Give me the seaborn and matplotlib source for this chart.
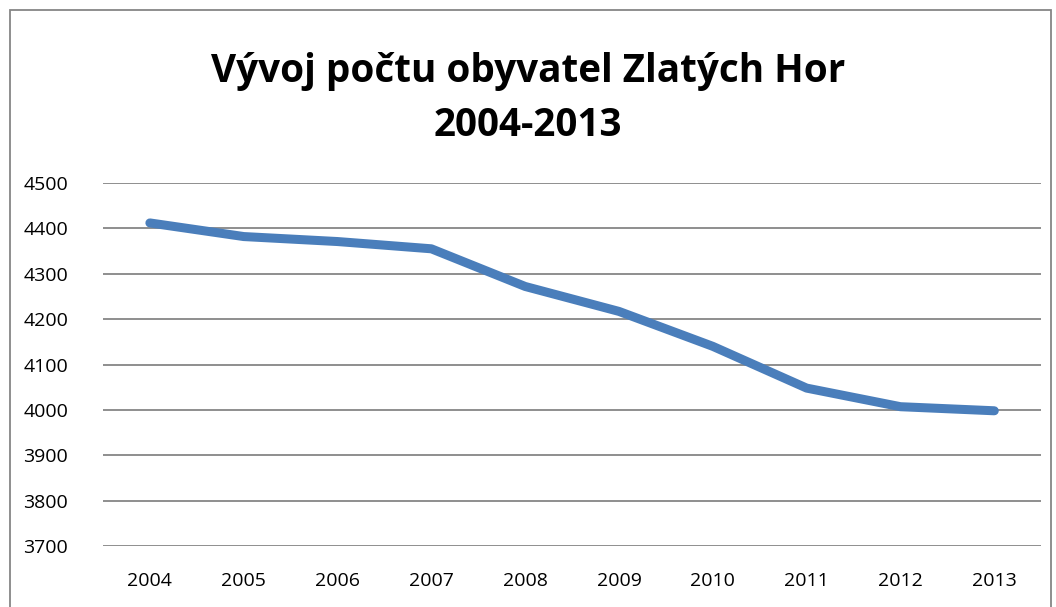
import pandas as pd
import matplotlib.pyplot as plt
import matplotlib.patches as patches
import seaborn as sns

years = [2004, 2005, 2006, 2007, 2008, 2009, 2010, 2011, 2012, 2013]
population = [4412, 4382, 4371, 4355, 4272, 4217, 4140, 4048, 4007, 3998]
y_ticks = [3700, 3800, 3900, 4000, 4100, 4200, 4300, 4400, 4500]

title = "Vývoj počtu obyvatel Zlatých Hor\n2004-2013"

sns.set_style("white")
plt.rcParams['font.family'] = ['Open Sans', 'DejaVu Sans']

df = pd.DataFrame({'rok': years, 'obyvatel': population})

fig = plt.figure(figsize=(10.56, 6.07), dpi=100)
ax = fig.add_axes([0.0975, 0.1005, 0.8885, 0.598])

sns.lineplot(data=df, x='rok', y='obyvatel', ax=ax, color='#4a7ebb',
             linewidth=6.5, solid_capstyle='round', zorder=3)

ax.set_xlim(years[0] - 0.5, years[-1] + 0.5)
ax.set_ylim(y_ticks[0], y_ticks[-1])
ax.set_xticks(years)
ax.set_xticklabels([str(y) for y in years])
ax.set_yticks(y_ticks)
ax.grid(axis='y', color='#868686', linewidth=1.3)
ax.grid(axis='x', visible=False)
ax.set_axisbelow(True)
for s in ax.spines.values():
    s.set_visible(False)
ax.tick_params(axis='both', length=0, labelsize=14, colors='black')
ax.tick_params(axis='x', pad=19)
ax.tick_params(axis='y', pad=25)
ax.set_xlabel('')
ax.set_ylabel('')

fig.text(0.5, 0.837, title, ha='center', va='center', fontsize=27.8,
         fontweight='bold', linespacing=1.5, color='black')

# outer chart border
fig.patches.append(patches.Rectangle((10 / 1056, -0.01), 1041 / 1056, 1 - 10 / 607 + 0.01,
                                     transform=fig.transFigure, fill=False,
                                     edgecolor='#868686', linewidth=1.3))

fig.savefig('out.png', dpi=100)
